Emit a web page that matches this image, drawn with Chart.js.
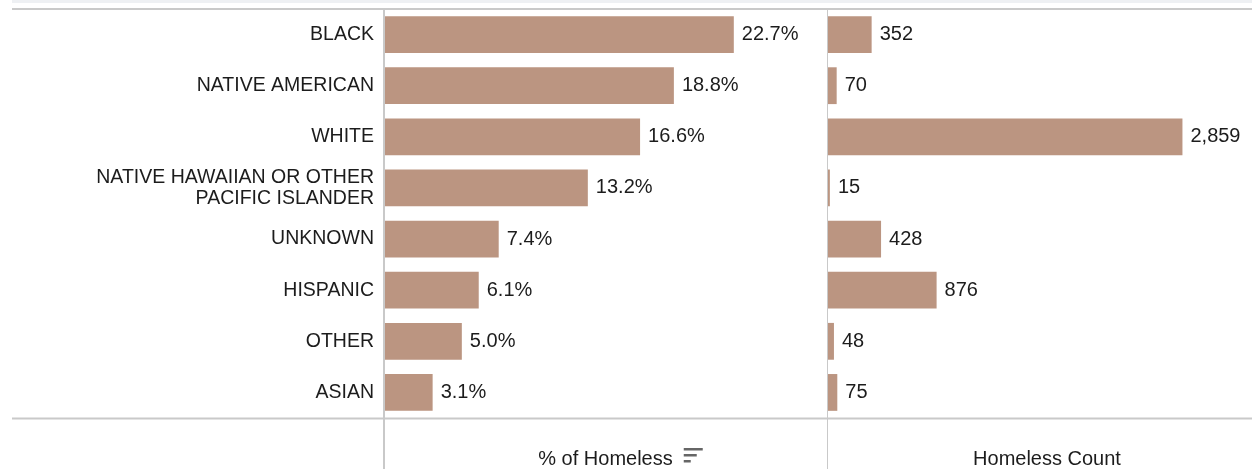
<!DOCTYPE html>
<html>
<head>
<meta charset="utf-8">
<script src="https://cdn.jsdelivr.net/npm/chart.js@4"></script>
<style>
  html, body { margin: 0; padding: 0; background: #fff; }
  #wrap { position: relative; width: 1252px; height: 469px; }
  .box { position: absolute; top: 0; height: 469px; }
  #pctBox { left: 0; width: 827px; }
  #cntBox { left: 827px; width: 425px; }
</style>
</head>
<body>
<div id="wrap">
  <div class="box" id="pctBox"><canvas id="pctChart"></canvas></div>
  <div class="box" id="cntBox"><canvas id="cntChart"></canvas></div>
</div>
<script>
const categories = ['BLACK', 'NATIVE AMERICAN', 'WHITE', ['NATIVE HAWAIIAN OR OTHER', 'PACIFIC ISLANDER'], 'UNKNOWN', 'HISPANIC', 'OTHER', 'ASIAN'];
const pctHomeless = [22.7, 18.8, 16.6, 13.2, 7.4, 6.1, 5.0, 3.1];
const homelessCount = [352, 70, 2859, 15, 428, 876, 48, 75];
const headers = ['% of Homeless', 'Homeless Count'];

const barColor = '#bb9581';
const lineColor = '#c9c9c9';
const textColor = '#1c1c1c';
const font = 'Arial, "Liberation Sans", sans-serif';

// frame lines, header text and value labels
function framePlugin(header, headerShift, fmt, isFirst) {
    return {
        id: 'frame' + (isFirst ? 1 : 2),
        beforeDraw(chart) {
            const c = chart.ctx, w = chart.width;
            const x0 = isFirst ? 12 : 0;
            c.save();
            c.fillStyle = '#eef0f3';
            c.fillRect(x0, 0, w - x0, 3);
            c.strokeStyle = lineColor;
            c.lineWidth = 2;
            c.beginPath();
            c.moveTo(x0, 9); c.lineTo(w, 9);
            c.moveTo(x0, 418.5); c.lineTo(w, 418.5);
            const vx = chart.chartArea.left - 1;
            c.moveTo(vx, 9); c.lineTo(vx, chart.height);
            c.stroke();
            c.restore();
        },
        afterDatasetsDraw(chart) {
            const c = chart.ctx;
            const meta = chart.getDatasetMeta(0);
            const data = chart.data.datasets[0].data;
            c.save();
            c.font = '20px ' + font;
            c.fillStyle = textColor;
            c.textBaseline = 'middle';
            c.textAlign = 'left';
            meta.data.forEach((bar, i) => {
                c.fillText(fmt(data[i]), Math.max(bar.x, chart.chartArea.left + 2) + 8, bar.y);
            });
            // header under the panel
            const area = chart.chartArea;
            const cx = (area.left + area.right) / 2 + headerShift;
            c.textAlign = 'center';
            c.fillText(header, cx, 459);
            if (isFirst) {
                const tw = c.measureText(header).width;
                const ix = cx + tw / 2 + 11;
                c.fillStyle = '#666';
                c.fillRect(ix, 448, 19, 2.5);
                c.fillRect(ix, 454, 13, 2.5);
                c.fillRect(ix, 460, 7, 2.5);
            }
            c.restore();
        }
    };
}

function makeChart(id, values, max, fmt, isFirst, header, headerShift) {
    return new Chart(document.getElementById(id).getContext('2d'), {
        type: 'bar',
        data: {
            labels: categories,
            datasets: [{
                data: values,
                backgroundColor: barColor,
                barPercentage: 0.72,
                categoryPercentage: 1.0
            }]
        },
        options: {
            indexAxis: 'y',
            responsive: true,
            maintainAspectRatio: false,
            animation: false,
            layout: {
                padding: { top: 9, bottom: 51, left: isFirst ? 0 : 1, right: isFirst ? 1 : 0 }
            },
            scales: {
                x: {
                    display: false,
                    min: 0,
                    max: max
                },
                y: {
                    display: isFirst,
                    grid: { display: false },
                    border: { display: false },
                    ticks: {
                        color: textColor,
                        padding: 3,
                        font: { family: font, size: 19.5, lineHeight: 1.05 }
                    },
                    afterFit(scale) {
                        if (isFirst) scale.width = 385;
                        scale.paddingTop = 0;
                        scale.paddingBottom = 0;
                    }
                }
            },
            plugins: {
                legend: { display: false },
                tooltip: { enabled: false }
            }
        },
        plugins: [framePlugin(header, headerShift, fmt, isFirst)]
    });
}

document.addEventListener('DOMContentLoaded', function () {
    makeChart('pctChart', pctHomeless, 28.7, v => v.toFixed(1) + '%', true, headers[0], 0);
    makeChart('cntChart', homelessCount, 3420, v => v.toLocaleString('en-US'), false, headers[1], 7);
});
</script>
</body>
</html>
